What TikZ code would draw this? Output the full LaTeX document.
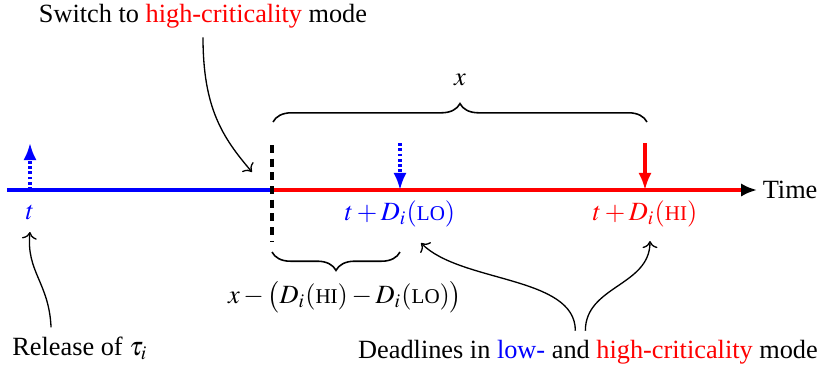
\documentclass[tikz,border=0pt]{standalone}
\usepackage{mathptmx}
\usepackage{fontspec}
\setmainfont{Liberation Serif}
\usetikzlibrary{arrows.meta,decorations.pathreplacing}
\definecolor{lomode}{HTML}{0000FF}
\definecolor{himode}{HTML}{FF0000}
\newcommand{\modeLO}{\mbox{\footnotesize LO}}
\newcommand{\modeHI}{\mbox{\footnotesize HI}}

\begin{document}
\begin{tikzpicture}[x=0.38pt,y=-0.38pt,
  axis/.style={line width=1.2pt},
  jobarrow/.style={-{Latex[length=6.5pt,width=5pt]},line width=1.2pt},
  dotline/.style={dash pattern=on 1.1pt off 0.9pt},
  note/.style={->,line width=0.5pt},
  span/.style={decorate,decoration={brace,amplitude=7pt},line width=0.6pt}]
  \useasboundingbox (0,0) rectangle (822,369);

  % ===== time axis =====
  \coordinate (start) at (7,190);
  \coordinate (switch) at (272,190);
  \coordinate (axisend) at (757,190);
  \draw[axis,lomode] (start) -- (switch);
  \draw[axis,himode,-{Latex[length=6pt,width=5pt,black]}] (switch) -- (axisend);
  \node[anchor=west,inner sep=2pt] (time) at (axisend) {Time};

  % ===== release and deadlines =====
  \coordinate (rel) at (30,190);
  \coordinate (reltop) at (30,143);
  \coordinate (dlo) at (400,190);
  \coordinate (dlotop) at (400,143);
  \coordinate (dhi) at (645,190);
  \coordinate (dhitop) at (645,143);
  \draw[jobarrow,dotline,lomode] (rel) -- (reltop);
  \draw[jobarrow,dotline,lomode] (dlotop) -- (dlo);
  \draw[jobarrow,himode] (dhitop) -- (dhi);
  \node[lomode] (t) at (30,212) {$t$};
  \node[lomode] (tlo) at (400,214) {$t+D_i(\modeLO)$};
  \node[himode] (thi) at (645,214) {$t+D_i(\modeHI)$};

  % ===== mode switch =====
  \coordinate (swtop) at (272,145);
  \coordinate (swbot) at (272,242);
  \draw[line width=1.2pt,dash pattern=on 3pt off 2.2pt] (swtop) -- (swbot);

  % ===== braces =====
  \draw[span] (273,122) -- (647,122);
  \node (xlen) at (460,80) {$x$};
  \draw[span] (400,252) -- (272,252);
  \node (gap) at (345,297) {$x-\bigl(D_i(\modeHI)-D_i(\modeLO)\bigr)$};

  % ===== annotations =====
  \node (swlbl) at (203,16) {Switch to \textcolor{himode}{high-criticality} mode};
  \coordinate (swtip) at (252,172);
  \draw[note] (swlbl.south) .. controls +(0,70) and +(-30,-35) .. (swtip);

  \node (rellbl) at (80,348) {Release of $\tau_i$};
  \coordinate (reltip) at (30,232);
  \draw[note] ([xshift=-11pt]rellbl.north) .. controls +(-2,-45) and +(-4,40) .. (reltip);

  \node (dllbl) at (588,352) {Deadlines in \textcolor{lomode}{low-} and \textcolor{himode}{high-criticality} mode};
  \coordinate (lotip) at (421,243);
  \coordinate (hitip) at (650,241);
  \draw[note] ([xshift=-4.8pt]dllbl.north) .. controls +(0,-55) and +(40,40) .. (lotip);
  \draw[note] ([xshift=-1pt]dllbl.north) .. controls +(0,-45) and +(0,45) .. (hitip);
\end{tikzpicture}
\end{document}
